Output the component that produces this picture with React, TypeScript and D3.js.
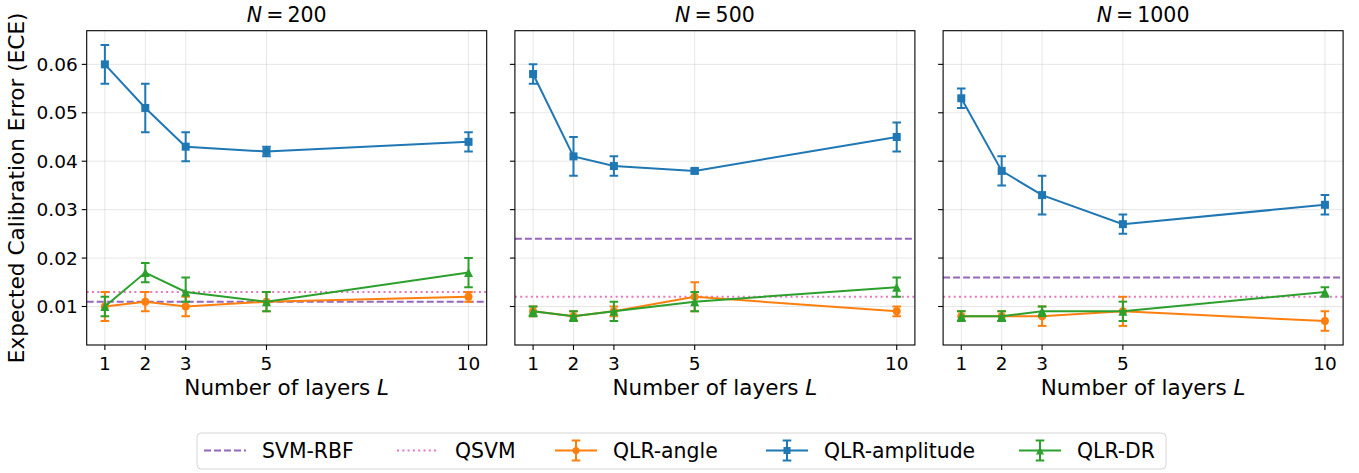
import React from 'react';
import * as d3 from 'd3';

// x positions (number of layers) and panels (training size N)
const layers = [1, 2, 3, 5, 10];
const sampleSizes = ['200', '500', '1000'];

// reference baselines, one value per panel
const svmRbf = [0.011, 0.024, 0.016];
const qsvm = [0.013, 0.012, 0.012];

// QLR-angle
const angleMean = [
  [0.010, 0.011, 0.010, 0.011, 0.012],
  [0.009, 0.008, 0.009, 0.012, 0.009],
  [0.008, 0.008, 0.008, 0.009, 0.007],
];
const angleErrLo = [
  [0.003, 0.002, 0.002, 0.002, 0.001],
  [0.001, 0.001, 0.001, 0.003, 0.001],
  [0.001, 0.001, 0.002, 0.003, 0.002],
];
const angleErrHi = angleErrLo;

// QLR-amplitude
const ampMean = [
  [0.060, 0.051, 0.043, 0.042, 0.044],
  [0.058, 0.041, 0.039, 0.038, 0.045],
  [0.053, 0.038, 0.033, 0.027, 0.031],
];
const ampErrLo = [
  [0.004, 0.005, 0.003, 0.001, 0.002],
  [0.002, 0.004, 0.002, 0.0005, 0.003],
  [0.002, 0.003, 0.004, 0.002, 0.002],
];
const ampErrHi = ampErrLo;

// QLR-DR
const drMean = [
  [0.010, 0.017, 0.013, 0.011, 0.017],
  [0.009, 0.008, 0.009, 0.011, 0.014],
  [0.008, 0.008, 0.009, 0.009, 0.013],
];
const drErrLo = [
  [0.002, 0.002, 0.002, 0.002, 0.003],
  [0.001, 0.001, 0.002, 0.002, 0.002],
  [0.001, 0.001, 0.001, 0.002, 0.001],
];
const drErrHi = [
  [0.002, 0.002, 0.003, 0.002, 0.003],
  [0.001, 0.001, 0.002, 0.002, 0.002],
  [0.001, 0.001, 0.001, 0.002, 0.001],
];

const yTicks = [0.01, 0.02, 0.03, 0.04, 0.05, 0.06];

const C = {
  blue: '#1f77b4',
  orange: '#ff7f0e',
  green: '#2ca02c',
  purple: '#9467bd',
  pink: '#e377c2',
};

const FONT = 'DejaVu Sans, sans-serif';
const W = 1359;
const H = 473;
const panelLeft = [86.7, 514.9, 943.1];
const panelW = 400;
const top = 30.7;
const bottom = 345;

const y = d3.scaleLinear().domain([0.00205, 0.06695]).range([bottom, top]);

const Marker = ({ kind, cx, cy, color, s = 8 }) => {
  if (kind === 'o') return <circle cx={cx} cy={cy} r={s / 2} fill={color} />;
  if (kind === 's') return <rect x={cx - s / 2} y={cy - s / 2} width={s} height={s} fill={color} />;
  const h = s + 1;
  return (
    <polygon
      points={`${cx},${cy - h / 2} ${cx + h / 2},${cy + h / 2} ${cx - h / 2},${cy + h / 2}`}
      fill={color}
    />
  );
};

const ErrorSeries = ({ x, mean, lo, hi, color, kind }) => {
  const line = d3.line().x((d, i) => x(layers[i])).y((d) => y(d));
  return (
    <g>
      <path d={line(mean)} fill="none" stroke={color} strokeWidth={2} />
      {mean.map((m, i) => {
        const cx = x(layers[i]);
        const y0 = y(m - lo[i]);
        const y1 = y(m + hi[i]);
        return (
          <g key={i} stroke={color} strokeWidth={2}>
            <line x1={cx} x2={cx} y1={y0} y2={y1} />
            <line x1={cx - 4.3} x2={cx + 4.3} y1={y0} y2={y0} />
            <line x1={cx - 4.3} x2={cx + 4.3} y1={y1} y2={y1} />
          </g>
        );
      })}
      {mean.map((m, i) => (
        <Marker key={'m' + i} kind={kind} cx={x(layers[i])} cy={y(m)} color={color} />
      ))}
    </g>
  );
};

const Panel = ({ idx }) => {
  const left = panelLeft[idx];
  const x = d3.scaleLinear().domain([0.55, 10.45]).range([left, left + panelW]);
  const clipId = 'clip' + idx;
  return (
    <g>
      <defs>
        <clipPath id={clipId}>
          <rect x={left} y={top} width={panelW} height={bottom - top} />
        </clipPath>
      </defs>
      {/* grid */}
      <g stroke="#b0b0b0" strokeOpacity={0.3} strokeWidth={1}>
        {layers.map((l) => (
          <line key={'gx' + l} x1={x(l)} x2={x(l)} y1={top} y2={bottom} />
        ))}
        {yTicks.map((t) => (
          <line key={'gy' + t} x1={left} x2={left + panelW} y1={y(t)} y2={y(t)} />
        ))}
      </g>
      <g clipPath={`url(#${clipId})`}>
        <line x1={left} x2={left + panelW} y1={y(svmRbf[idx])} y2={y(svmRbf[idx])}
          stroke={C.purple} strokeWidth={2} strokeDasharray="7,3" />
        <line x1={left} x2={left + panelW} y1={y(qsvm[idx])} y2={y(qsvm[idx])}
          stroke={C.pink} strokeWidth={2} strokeDasharray="2,3.3" />
        <ErrorSeries x={x} mean={angleMean[idx]} lo={angleErrLo[idx]} hi={angleErrHi[idx]} color={C.orange} kind="o" />
        <ErrorSeries x={x} mean={ampMean[idx]} lo={ampErrLo[idx]} hi={ampErrHi[idx]} color={C.blue} kind="s" />
        <ErrorSeries x={x} mean={drMean[idx]} lo={drErrLo[idx]} hi={drErrHi[idx]} color={C.green} kind="^" />
      </g>
      <rect x={left} y={top} width={panelW} height={bottom - top} fill="none" stroke="#000" strokeWidth={1.1} />
      {/* x ticks */}
      {layers.map((l) => (
        <g key={'xt' + l}>
          <line x1={x(l)} x2={x(l)} y1={bottom} y2={bottom + 5} stroke="#000" strokeWidth={1.1} />
          <text x={x(l)} y={369.5} textAnchor="middle" fontSize={18.5} fontFamily={FONT}>{l}</text>
        </g>
      ))}
      {/* y ticks */}
      {yTicks.map((t) => (
        <g key={'yt' + t}>
          <line x1={left - 5} x2={left} y1={y(t)} y2={y(t)} stroke="#000" strokeWidth={1.1} />
          {idx === 0 && (
            <text x={left - 9} y={y(t)} dy="0.36em" textAnchor="end" fontSize={18.5} fontFamily={FONT}>
              {d3.format('.2f')(t)}
            </text>
          )}
        </g>
      ))}
      <text x={left + panelW / 2} y={395} textAnchor="middle" fontSize={21.5} fontFamily={FONT}>
        Number of layers <tspan fontStyle="italic">L</tspan>
      </text>
      <text x={left + panelW / 2} y={21.5} textAnchor="middle" fontSize={20.5} fontFamily={FONT}>
        <tspan fontStyle="italic">N</tspan>
        <tspan dx={4}>=</tspan>
        <tspan dx={4}>{sampleSizes[idx]}</tspan>
      </text>
    </g>
  );
};

const legendItems = [
  { label: 'SVM-RBF', color: C.purple, type: 'dash', x: 204 },
  { label: 'QSVM', color: C.pink, type: 'dot', x: 397 },
  { label: 'QLR-angle', color: C.orange, type: 'o', x: 555 },
  { label: 'QLR-amplitude', color: C.blue, type: 's', x: 766 },
  { label: 'QLR-DR', color: C.green, type: '^', x: 1019 },
];

const Legend = () => {
  const cy = 450.5;
  return (
    <g>
      <rect x={197} y={433} width={969} height={36} rx={4} fill="#fff" fillOpacity={0.8} stroke="#d6d6d6" strokeWidth={1} />
      {legendItems.map((it) => {
        const x0 = it.x;
        const x1 = x0 + 42;
        const mid = (x0 + x1) / 2;
        const isErr = it.type !== 'dash' && it.type !== 'dot';
        return (
          <g key={it.label}>
            {it.type === 'dash' && (
              <line x1={x0} x2={x1} y1={cy} y2={cy} stroke={it.color} strokeWidth={2} strokeDasharray="7,3" />
            )}
            {it.type === 'dot' && (
              <line x1={x0} x2={x1} y1={cy} y2={cy} stroke={it.color} strokeWidth={2} strokeDasharray="2,3.3" />
            )}
            {isErr && (
              <g stroke={it.color} strokeWidth={2}>
                <line x1={x0} x2={x1} y1={cy} y2={cy} />
                <line x1={mid} x2={mid} y1={cy - 10} y2={cy + 10} />
                <line x1={mid - 4.3} x2={mid + 4.3} y1={cy - 10} y2={cy - 10} />
                <line x1={mid - 4.3} x2={mid + 4.3} y1={cy + 10} y2={cy + 10} />
              </g>
            )}
            {isErr && <Marker kind={it.type} cx={mid} cy={cy} color={it.color} s={7} />}
            <text x={x1 + 16} y={cy} dy="0.36em" fontSize={20.4} fontFamily={FONT}>{it.label}</text>
          </g>
        );
      })}
    </g>
  );
};

export default function App() {
  return (
    <div style={{ position: 'absolute', left: 0, top: 0 }}>
      <svg width={W} height={H} style={{ display: 'block', background: '#fff' }}>
        <text
          transform={`translate(24,${(top + bottom) / 2}) rotate(-90)`}
          textAnchor="middle"
          fontSize={21.6}
          fontFamily={FONT}
        >
          Expected Calibration Error (ECE)
        </text>
        {sampleSizes.map((n, i) => (
          <Panel key={n} idx={i} />
        ))}
        <Legend />
      </svg>
    </div>
  );
}
